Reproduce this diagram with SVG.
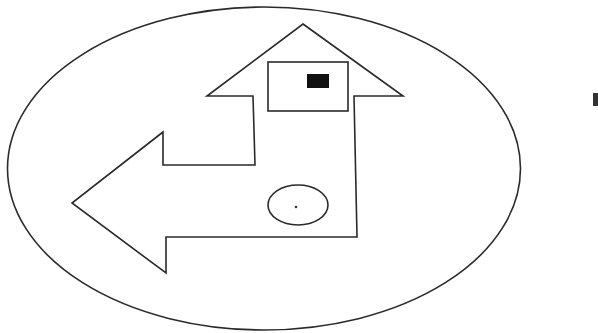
<svg xmlns="http://www.w3.org/2000/svg" width="598" height="333" viewBox="0 0 598 333">
<style>
.ln{fill:none;stroke:#2a2a2a;stroke-width:1.6;stroke-linejoin:miter}
</style>
<rect width="598" height="333" fill="#fff"/>
<g id="boundary">
<ellipse class="ln" cx="264" cy="168.5" rx="256.5" ry="161.5"/>
</g>
<g id="arrow">
<path class="ln" d="M303,24 L403,96 L354,96 L357,237 L166,237 L166,273 L72,203 L163,132 L163,165 L255,165 L253,96 L207,96 Z"/>
</g>
<g id="box">
<rect class="ln" x="268" y="62" width="80" height="49"/>
<rect x="307" y="74" width="22" height="14" fill="#111"/>
</g>
<g id="spot">
<ellipse class="ln" cx="298" cy="205" rx="30" ry="20"/>
<circle cx="296" cy="207" r="1.3" fill="#333"/>
</g>
<g id="mark">
<rect x="593" y="93" width="5" height="13" fill="#333"/>
</g>
</svg>
